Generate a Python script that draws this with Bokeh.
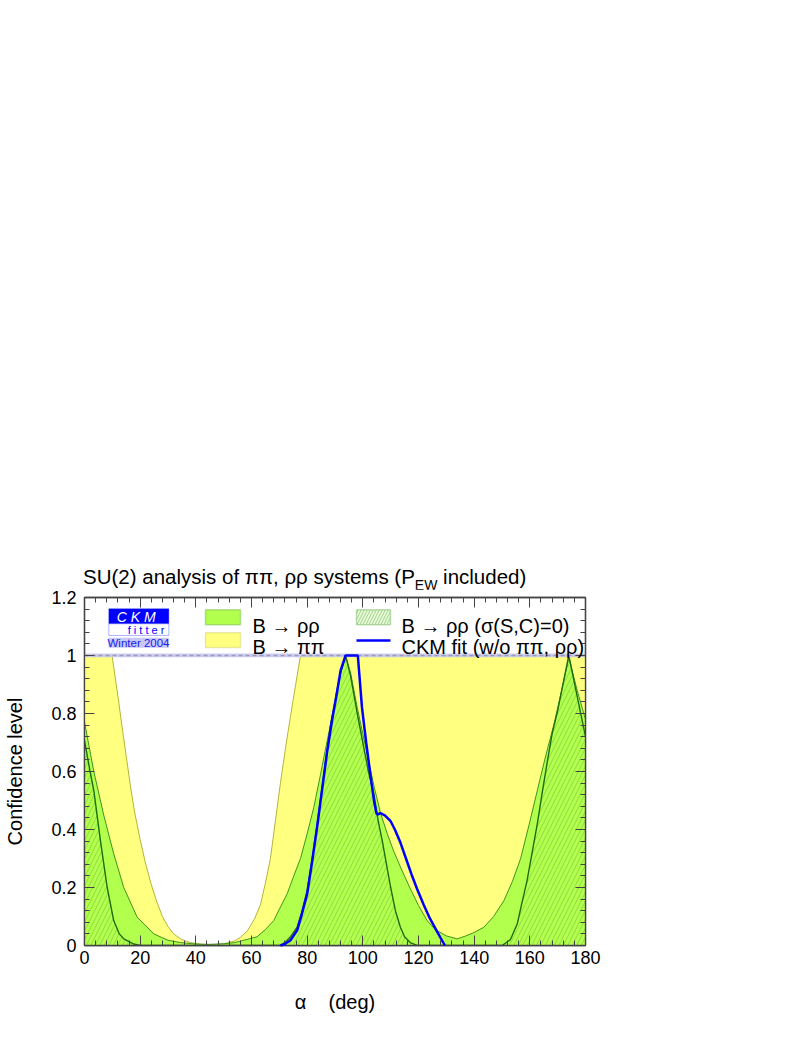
import math
from bokeh.plotting import figure
from bokeh.layouts import column
from bokeh.models import (Range1d, LinearAxis, FixedTicker, CustomJSTickFormatter,
                          Label, BoxAnnotation, Span, Div)
from bokeh.embed import file_html
from bokeh.resources import INLINE

# ---------------- data ----------------
# B -> pi pi  (yellow)
alpha_pipi = [0, 9.9, 12, 14, 16.5, 18, 20, 22, 24, 26, 28, 30, 32, 35, 38, 42, 45, 48, 51, 54,
              56, 58.5, 61, 63.2, 65, 66.8, 68.6, 70.4, 72.2, 74, 75.8, 77.6, 180]
cl_pipi = [1.0, 1.0, 0.86, 0.72, 0.55, 0.46, 0.365, 0.28, 0.21, 0.15, 0.10, 0.065, 0.04, 0.02, 0.01,
           0.004, 0.002, 0.004, 0.008, 0.016, 0.028, 0.05, 0.09, 0.14, 0.215, 0.30, 0.43, 0.56, 0.68,
           0.79, 0.895, 1.0, 1.0]

# B -> rho rho (light green)
alpha_rr = [0, 3.35, 6.9, 10.5, 14.1, 18.9, 24.9, 30, 34.5, 40, 45, 50, 54, 58, 62, 65, 68, 70, 72.8,
            75, 77.6, 80, 82.4, 84.8, 87.2, 89.6, 92, 93.8, 95.6, 98, 100, 102, 104, 106.4, 108.8,
            111.1, 114, 117.1, 120, 123.1, 126, 130, 133.9, 137, 140, 143.5, 147, 150.7, 153.7,
            156.7, 159.7, 162.7, 165.6, 168.6, 171.3, 174, 177, 180]
cl_rr = [0.77, 0.60, 0.45, 0.316, 0.20, 0.098, 0.04, 0.018, 0.01, 0.005, 0.004, 0.006, 0.01, 0.02,
         0.03, 0.055, 0.086, 0.125, 0.178, 0.235, 0.30, 0.385, 0.477, 0.59, 0.707, 0.82, 0.937, 1.0,
         0.94, 0.82, 0.73, 0.64, 0.55, 0.455, 0.385, 0.325, 0.26, 0.195, 0.138, 0.086, 0.055, 0.033,
         0.023, 0.033, 0.045, 0.063, 0.10, 0.155, 0.22, 0.30, 0.415, 0.535, 0.65, 0.76, 0.875, 0.994,
         0.88, 0.78]

# B -> rho rho with sigma(S,C)=0 (hatched)
alpha_s0 = [0, 2, 3.35, 5.75, 8.15, 10.5, 12.5, 14.1, 17.7, 20, 70, 72, 74, 76.4, 78.2, 80, 81.8,
            83.6, 86, 88.4, 90.5, 92, 93.8, 95.6, 98, 100.4, 102, 104, 105.5, 107, 108.5, 110, 111.7,
            113.5, 115, 117, 119.5, 150, 153, 155.5, 157, 159, 161, 162.7, 164.5, 166.2, 168, 170,
            172, 174, 177, 180]
cl_s0 = [0.707, 0.60, 0.534, 0.36, 0.20, 0.086, 0.04, 0.023, 0.005, 0.0, 0.0, 0.01, 0.03, 0.063,
         0.12, 0.19, 0.30, 0.42, 0.59, 0.76, 0.87, 0.94, 1.0, 0.93, 0.80, 0.68, 0.60, 0.52, 0.43, 0.36,
         0.28, 0.20, 0.12, 0.063, 0.03, 0.01, 0.0, 0.0, 0.02, 0.075, 0.14, 0.224, 0.33, 0.42, 0.53,
         0.63, 0.73, 0.81, 0.905, 1.0, 0.86, 0.72]

# CKM fit (w/o pi pi, rho rho) (blue line)
alpha_fit = [70.4, 72, 74, 76.4, 78, 80, 81.8, 83.6, 85.4, 87.2, 89, 90.5, 92, 93.8, 98.2, 99.7,
             101.2, 102.7, 104, 104.9, 105.5, 106.3, 108, 109.9, 111.5, 113.5, 115.5, 117.5, 119.5,
             121.9, 124, 126, 128, 129.5]
cl_fit = [0.0, 0.005, 0.018, 0.052, 0.105, 0.178, 0.29, 0.41, 0.54, 0.67, 0.78, 0.86, 0.948, 1.0,
          1.0, 0.82, 0.70, 0.59, 0.50, 0.455, 0.452, 0.457, 0.448, 0.43, 0.40, 0.355, 0.30, 0.245,
          0.195, 0.14, 0.095, 0.06, 0.025, 0.0]

x_major = [0, 20, 40, 60, 80, 100, 120, 140, 160, 180]
y_major = [0, 0.2, 0.4, 0.6, 0.8, 1.0, 1.2]

TITLE_HTML = ("SU(2) analysis of \u03c0\u03c0, \u03c1\u03c1 systems (P"
              "<span style='font-size:14px;vertical-align:-6px'>EW</span> included)")
LEG_RR = "B \u2192 \u03c1\u03c1"
LEG_PIPI = "B \u2192 \u03c0\u03c0"
LEG_S0 = "B \u2192 \u03c1\u03c1 (\u03c3(S,C)=0)"
LEG_FIT = "CKM fit (w/o \u03c0\u03c0, \u03c1\u03c1)"
X_LABEL = "\u03b1\u00a0\u00a0\u00a0\u00a0(deg)"
Y_LABEL = "Confidence level"

# ---------------- styles ----------------
FONT = "Liberation Sans"
YEL_FILL, YEL_LINE = "#ffff80", "#b4b43c"
GRN_FILL, GRN_LINE = "#b3ff4d", "#3c961e"
HATCH_LINE, HATCH_COL = "#1e6e0f", "#2f7f1f"
BLUE = "#0000ff"
AX = "#444444"

p = figure(frame_width=501, frame_height=348, min_border_left=84, min_border_top=8,
           min_border_right=190, min_border_bottom=75,
           x_range=Range1d(0, 180), y_range=Range1d(0, 1.2),
           output_backend="svg", toolbar_location=None, tools="")
p.xgrid.visible = False
p.ygrid.visible = False
p.outline_line_color = AX
p.outline_line_width = 1.3
p.background_fill_color = "white"
p.border_fill_color = "white"

# regions
p.varea(x=alpha_pipi, y1=0, y2=cl_pipi, fill_color=YEL_FILL)
p.line(alpha_pipi, cl_pipi, line_color=YEL_LINE, line_width=1)
p.varea(x=alpha_rr, y1=0, y2=cl_rr, fill_color=GRN_FILL)
p.line(alpha_rr, cl_rr, line_color=GRN_LINE, line_width=1)
p.varea(x=alpha_s0, y1=0, y2=cl_s0, fill_alpha=0, hatch_pattern="/", hatch_color=HATCH_COL,
        hatch_alpha=0.4, hatch_scale=9, hatch_weight=0.7)
p.line(alpha_s0, cl_s0, line_color=HATCH_LINE, line_width=1.4)

# CL = 1 band
p.add_layout(BoxAnnotation(bottom=0.994, top=1.007, fill_color="#c8c8f0", fill_alpha=0.9,
                           line_color=None, level="glyph"))
p.add_layout(Span(location=1.0, dimension="width", line_color="#9a9ac0", line_width=1.3,
                  line_dash="4 3", level="glyph"))

p.line(alpha_fit, cl_fit, line_color=BLUE, line_width=2.5, level="overlay")


def minor_of(major, n=4):
    out = []
    for a, b in zip(major[:-1], major[1:]):
        step = (b - a) / (n + 1)
        out += [a + step * k for k in range(1, n + 1)]
    return out


def style_axis(ax, major, show_labels, fmt=None):
    ax.ticker = FixedTicker(ticks=major, minor_ticks=minor_of(major))
    ax.axis_line_color = AX
    ax.axis_line_width = 1.3
    ax.major_tick_line_color = AX
    ax.minor_tick_line_color = AX
    ax.major_tick_in = 10
    ax.major_tick_out = 0
    ax.minor_tick_in = 5
    ax.minor_tick_out = 0
    ax.major_label_text_font = FONT
    ax.major_label_text_color = "black"
    if show_labels:
        ax.major_label_text_font_size = "18px"
        if fmt is not None:
            ax.formatter = fmt
    else:
        ax.major_label_text_font_size = "0px"
        ax.major_label_standoff = 0
        ax.formatter = CustomJSTickFormatter(code="return '';")


yfmt = CustomJSTickFormatter(code="return String(Math.round(tick*10)/10);")

style_axis(p.xaxis[0], x_major, True)
p.xaxis[0].major_label_standoff = 5
p.xaxis[0].axis_label = X_LABEL
p.xaxis[0].axis_label_text_font = FONT
p.xaxis[0].axis_label_text_font_size = "20px"
p.xaxis[0].axis_label_text_font_style = "normal"
p.xaxis[0].axis_label_text_color = "black"
p.xaxis[0].axis_label_standoff = 24

style_axis(p.yaxis[0], y_major, True, yfmt)
p.yaxis[0].major_label_standoff = 8
p.yaxis[0].axis_label = Y_LABEL
p.yaxis[0].axis_label_text_font = FONT
p.yaxis[0].axis_label_text_font_size = "20px"
p.yaxis[0].axis_label_text_font_style = "normal"
p.yaxis[0].axis_label_text_color = "black"
p.yaxis[0].axis_label_standoff = 22

top_ax = LinearAxis()
style_axis(top_ax, x_major, False)
p.add_layout(top_ax, "above")
right_ax = LinearAxis()
style_axis(right_ax, y_major, False)
p.add_layout(right_ax, "right")

# CKMfitter logo
p.add_layout(BoxAnnotation(left=8.74, right=30.30, bottom=1.1093, top=1.1610, fill_color="#0000ff",
                           fill_alpha=1, line_color="#0000ff", line_width=1))
p.add_layout(BoxAnnotation(left=8.74, right=30.30, bottom=1.069, top=1.1093, fill_color="white",
                           fill_alpha=1, line_color="#0000ff", line_width=1))
p.add_layout(BoxAnnotation(left=8.62, right=30.30, bottom=1.0266, top=1.0610, fill_color="#c8c8f5",
                           fill_alpha=1, line_color=None))
p.add_layout(Label(x=18.6, y=1.1338, text="C K M", text_align="center", text_baseline="middle",
                   text_font=FONT, text_font_style="italic", text_font_size="14px", text_color="white"))
p.add_layout(Label(x=22.1, y=1.088, text="f i t t e r", text_align="center", text_baseline="middle",
                   text_font=FONT, text_font_size="11px", text_color="#0000ff"))
p.add_layout(Label(x=19.4, y=1.044, text="Winter 2004", text_align="center", text_baseline="middle",
                   text_font=FONT, text_font_size="11.5px", text_color="#1a1aee"))

# legend
p.add_layout(BoxAnnotation(left=43.47, right=56.05, bottom=1.1059, top=1.1576, fill_color=GRN_FILL,
                           fill_alpha=1, line_color=GRN_LINE, line_width=1.5))
p.add_layout(BoxAnnotation(left=43.47, right=56.05, bottom=1.0276, top=1.0783, fill_color=YEL_FILL,
                           fill_alpha=1, line_color=YEL_LINE, line_width=1.5))
p.add_layout(BoxAnnotation(left=97.72, right=109.94, bottom=1.1059, top=1.1576, fill_color="#e4f9d4",
                           fill_alpha=1, line_color=GRN_LINE, line_width=1.5, hatch_pattern="/",
                           hatch_color=GRN_LINE, hatch_alpha=0.5, hatch_scale=6, hatch_weight=0.7))
p.segment(x0=[97.72], y0=[1.0517], x1=[109.94], y1=[1.0517], line_color=BLUE, line_width=2.5)

for txt, xx, yy in [(LEG_RR, 60.36, 1.1024), (LEG_PIPI, 60.36, 1.0286),
                    (LEG_S0, 113.9, 1.1024), (LEG_FIT, 113.9, 1.0286)]:
    p.add_layout(Label(x=xx, y=yy, text=txt, text_align="left", text_baseline="alphabetic",
                       text_font=FONT, text_font_size="20px", text_color="black"))

title = Div(text=TITLE_HTML, width=580, height=24, margin=(565, 0, 0, 83),
            styles={"font-family": FONT, "font-size": "20.5px", "color": "black",
                    "white-space": "nowrap", "line-height": "24px"})

layout = column(title, p, spacing=0)
open("out.html", "w").write(file_html(layout, INLINE))
